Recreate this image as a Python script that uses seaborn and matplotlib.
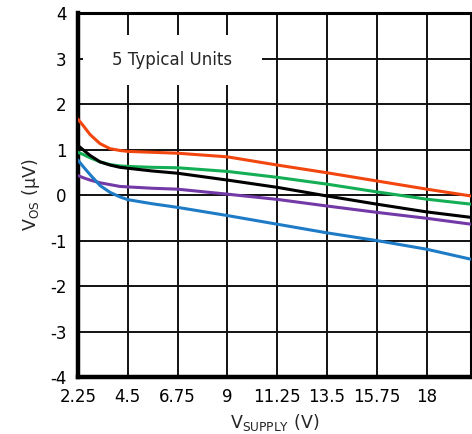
import pandas as pd
import numpy as np
import matplotlib
matplotlib.use('Agg')
import matplotlib.pyplot as plt
import matplotlib.patches as mpatches
import seaborn as sns

# Tensión de alimentación (V) y offset de cada unidad (µV)
v_supply = [2.25, 2.5, 2.8, 3.25, 3.7, 4.15, 4.5, 5.6, 6.75, 9, 11.25, 13.5, 15.75, 18, 20]
unit_orange = [1.67, 1.52, 1.33, 1.13, 1.02, 0.98, 0.96, 0.94, 0.92, 0.84, 0.66, 0.49, 0.31, 0.13, -0.02]
unit_green = [0.94, 0.89, 0.82, 0.73, 0.67, 0.64, 0.63, 0.61, 0.60, 0.52, 0.39, 0.24, 0.07, -0.09, -0.20]
unit_black = [1.09, 0.99, 0.87, 0.73, 0.66, 0.61, 0.59, 0.53, 0.48, 0.33, 0.17, -0.02, -0.20, -0.37, -0.49]
unit_purple = [0.43, 0.38, 0.33, 0.27, 0.23, 0.19, 0.18, 0.15, 0.13, 0.02, -0.095, -0.24, -0.38, -0.51, -0.64]
unit_blue = [0.77, 0.62, 0.45, 0.21, 0.06, -0.04, -0.10, -0.19, -0.27, -0.45, -0.64, -0.83, -1.0, -1.19, -1.41]

x_ticks = [2.25, 4.5, 6.75, 9, 11.25, 13.5, 15.75, 18]
x_tick_labels = ['2.25', '4.5', '6.75', '9', '11.25', '13.5', '15.75', '18']
y_ticks = [-4, -3, -2, -1, 0, 1, 2, 3, 4]

units = {
    'orange': unit_orange,
    'green': unit_green,
    'black': unit_black,
    'purple': unit_purple,
    'blue': unit_blue,
}
colores = {
    'orange': '#F2460F',
    'green': '#14AE55',
    'black': '#000000',
    'purple': '#7339A6',
    'blue': '#1E7BC6',
}

filas = []
for nombre, vals in units.items():
    for v, y in zip(v_supply, vals):
        filas.append({'Unidad': nombre, 'Vsupply': v, 'Vos': y})
df = pd.DataFrame(filas)

sns.set_theme(style='white')
plt.rcParams['font.family'] = ['DejaVu Sans']
plt.rcParams['axes.unicode_minus'] = False

fig = plt.figure(figsize=(4.72, 4.34), dpi=100)
ax = fig.add_axes([0.165, 0.131, 0.833, 0.839])

sns.lineplot(data=df, x='Vsupply', y='Vos', hue='Unidad', palette=colores,
             linewidth=2.2, legend=False, ax=ax, zorder=3)

ax.set_xlim(2.25, 20)
ax.set_ylim(-4, 4)
ax.set_xticks(x_ticks)
ax.set_xticklabels(x_tick_labels)
ax.set_yticks(y_ticks)
ax.tick_params(length=0, labelsize=12, colors='black', pad=8)

ax.set_axisbelow(True)
ax.grid(True, color='#111111', linewidth=1.4)

for lado in ['left', 'bottom']:
    ax.spines[lado].set_linewidth(3.2)
for lado in ['top', 'right']:
    ax.spines[lado].set_linewidth(2.2)
for sp in ax.spines.values():
    sp.set_color('black')
    sp.set_visible(True)

# Caja blanca con el texto
caja = mpatches.Rectangle((0.013, 0.802), 0.455, 0.138, transform=ax.transAxes,
                          facecolor='white', edgecolor='none', zorder=1)
ax.add_patch(caja)
ax.text(0.24, 0.871, '5 Typical Units', transform=ax.transAxes, ha='center',
        va='center', fontsize=12, zorder=2)

ax.set_xlabel(r'V$_{\mathregular{SUPPLY}}$ (V)', fontsize=12.5, labelpad=4)
ax.set_ylabel(r'V$_{\mathregular{OS}}$ ($\mathregular{\mu}$V)', fontsize=12.5, labelpad=6)

plt.savefig('out.png', dpi=100)
plt.close()
